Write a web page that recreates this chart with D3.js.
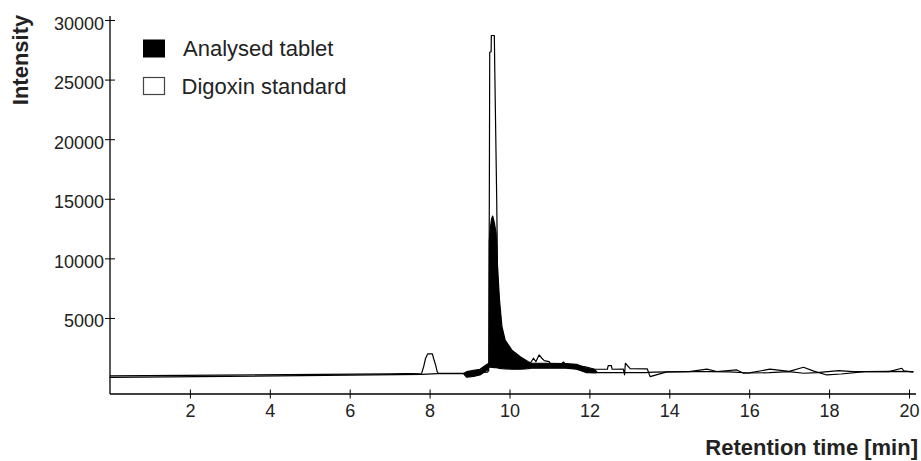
<!DOCTYPE html>
<html>
<head>
<meta charset="utf-8">
<script src="https://cdn.jsdelivr.net/npm/d3@7"></script>
<style>
  body { margin: 0; background: #fff; }
  svg { display: block; font-family: "Liberation Sans", Arial, sans-serif; }
</style>
</head>
<body>
<div id="chart"></div>
<script>
// retention time (min) / intensity
const stdTime = [0, 7.0, 7.8, 7.85, 7.9, 7.95, 8.07, 8.1, 8.15, 8.19, 8.22, 9.0, 9.45, 9.48, 9.495, 9.505, 9.54, 9.545, 9.62, 9.635, 9.68, 9.72, 9.8, 10.0, 10.3, 10.52, 10.6, 10.66, 10.74, 10.81, 10.87, 10.99, 11.02, 11.3, 11.35, 11.4, 11.9, 12.14, 12.45, 12.47, 12.55, 12.57, 12.85, 12.88, 12.9, 13.02, 13.45, 13.52, 13.94, 14.5, 14.94, 15.19, 15.69, 15.86, 16.0, 16.52, 17.0, 17.36, 17.6, 17.94, 18.3, 18.9, 19.5, 19.82, 19.87, 20.11];
const stdIntensity = [134, 302, 360, 900, 1620, 1980, 1980, 1600, 1057, 495, 360, 380, 450, 600, 15000, 27300, 27350, 28700, 28700, 25000, 14900, 3000, 1500, 1000, 1000, 1200, 1620, 1334, 1896, 1620, 1418, 1334, 1200, 1150, 1300, 1150, 900, 696, 696, 1000, 1000, 696, 700, 220, 1200, 750, 720, 80, 470, 490, 700, 510, 640, 360, 400, 700, 520, 864, 560, 218, 300, 495, 500, 780, 560, 450];

// the tablet trace is very noisy, so it is kept as a low/high envelope
const tabTime = [0, 7.8, 8.2, 8.85, 8.93, 9.1, 9.26, 9.45, 9.49, 9.495, 9.52, 9.55, 9.58, 9.62, 9.665, 9.7, 9.75, 9.81, 9.89, 10.06, 10.27, 10.47, 10.55, 11.0, 11.4, 11.68, 11.93, 12.14, 12.2, 13.4, 13.6, 14.0, 14.5, 15.0, 15.5, 16.0, 16.5, 17.0, 17.36, 17.7, 18.24, 18.6, 18.9, 19.5, 20.1];
const tabHigh = [10, 260, 330, 340, 495, 600, 696, 1140, 1200, 11500, 12500, 13300, 13550, 13000, 12100, 9300, 6500, 4300, 3150, 2300, 1750, 1330, 1200, 1200, 1180, 1115, 780, 650, 410, 420, 450, 480, 500, 500, 480, 380, 410, 500, 360, 420, 580, 500, 495, 520, 495];
const tabLow = [10, 260, 330, 320, 25, 100, 218, 637, 900, 900, 880, 860, 850, 840, 820, 800, 770, 750, 730, 700, 700, 740, 780, 780, 780, 700, 410, 390, 410, 420, 450, 480, 500, 500, 480, 380, 410, 500, 360, 420, 580, 500, 495, 520, 495];

const xTicks = [2, 4, 6, 8, 10, 12, 14, 16, 18, 20];
const yTicks = [5000, 10000, 15000, 20000, 25000, 30000];
const seriesNames = ["Analysed tablet", "Digoxin standard"];

function drawChart() {
    const width = 921, height = 461;
    const marginLeft = 110, marginTop = 20, marginBottom = 67;
    const textColor = "#222";

    const xScale = d3.scaleLinear([0, 20], [marginLeft, 909]);
    const yScale = d3.scaleLinear([-1380, 30000], [height - marginBottom, marginTop]);

    const svg = d3.select("#chart")
        .append("svg")
        .attr("width", width)
        .attr("height", height)
        .attr("viewBox", [0, 0, width, height]);

    // x axis, ticks cross the line
    svg.append("g")
        .attr("transform", `translate(0,${height - marginBottom})`)
        .call(d3.axisBottom(xScale).tickValues(xTicks).tickFormat(d3.format("d")).tickSizeOuter(0))
        .call(g => g.select(".domain").attr("d", `M${marginLeft},0H916`).attr("stroke", "#000").attr("stroke-width", 1.3))
        .call(g => g.selectAll(".tick line").attr("y1", -4.5).attr("y2", 4.5).attr("stroke", "#000"))
        .call(g => g.selectAll(".tick text")
            .attr("y", 22.5).attr("dy", 0)
            .attr("font-size", 18).attr("fill", textColor).attr("font-family", null));

    // y axis
    svg.append("g")
        .attr("transform", `translate(${marginLeft},0)`)
        .call(d3.axisLeft(yScale).tickValues(yTicks).tickFormat(d3.format("d")).tickSizeOuter(0))
        .call(g => g.select(".domain").attr("d", `M0,16V${height - marginBottom}`).attr("stroke", "#000").attr("stroke-width", 1.3))
        .call(g => g.selectAll(".tick line").attr("x1", -5).attr("x2", 5).attr("stroke", "#000"))
        .call(g => g.selectAll(".tick text")
            .attr("x", -6).attr("dy", 9)
            .attr("font-size", 18).attr("fill", textColor).attr("font-family", null));

    // axis titles
    svg.append("text")
        .attr("transform", "translate(28,60) rotate(-90)")
        .attr("text-anchor", "middle")
        .attr("font-size", 22)
        .attr("font-weight", "bold")
        .attr("fill", textColor)
        .text("Intensity");

    svg.append("text")
        .attr("x", 918)
        .attr("y", 455)
        .attr("text-anchor", "end")
        .attr("font-size", 22)
        .attr("font-weight", "bold")
        .attr("fill", textColor)
        .text("Retention time [min]");

    // analysed tablet: filled envelope
    const area = d3.area()
        .x(i => xScale(tabTime[i]))
        .y0(i => yScale(tabLow[i]))
        .y1(i => yScale(tabHigh[i]));

    svg.append("path")
        .attr("fill", "#000")
        .attr("stroke", "#000")
        .attr("stroke-width", 1.2)
        .attr("stroke-linejoin", "round")
        .attr("d", area(d3.range(tabTime.length)));

    // digoxin standard: thin line
    const line = d3.line()
        .x(i => xScale(stdTime[i]))
        .y(i => yScale(stdIntensity[i]));

    svg.append("path")
        .attr("fill", "none")
        .attr("stroke", "#000")
        .attr("stroke-width", 1.2)
        .attr("stroke-linejoin", "round")
        .attr("d", line(d3.range(stdTime.length)));

    // legend
    const legend = svg.append("g").attr("transform", "translate(143,0)");
    legend.append("rect")
        .attr("x", 0).attr("y", 39.5).attr("width", 22).attr("height", 18)
        .attr("fill", "#000");
    legend.append("rect")
        .attr("x", 0.5).attr("y", 77.5).attr("width", 21).attr("height", 17)
        .attr("fill", "#fff").attr("stroke", "#444").attr("stroke-width", 1.2);
    legend.selectAll("text.lbl")
        .data(seriesNames)
        .join("text")
        .attr("class", "lbl")
        .attr("x", (d, i) => i === 0 ? 40 : 38.5)
        .attr("y", (d, i) => i === 0 ? 56 : 93.5)
        .attr("font-size", 22)
        .attr("fill", textColor)
        .text(d => d);

    return svg.node();
}

drawChart();
</script>
</body>
</html>
